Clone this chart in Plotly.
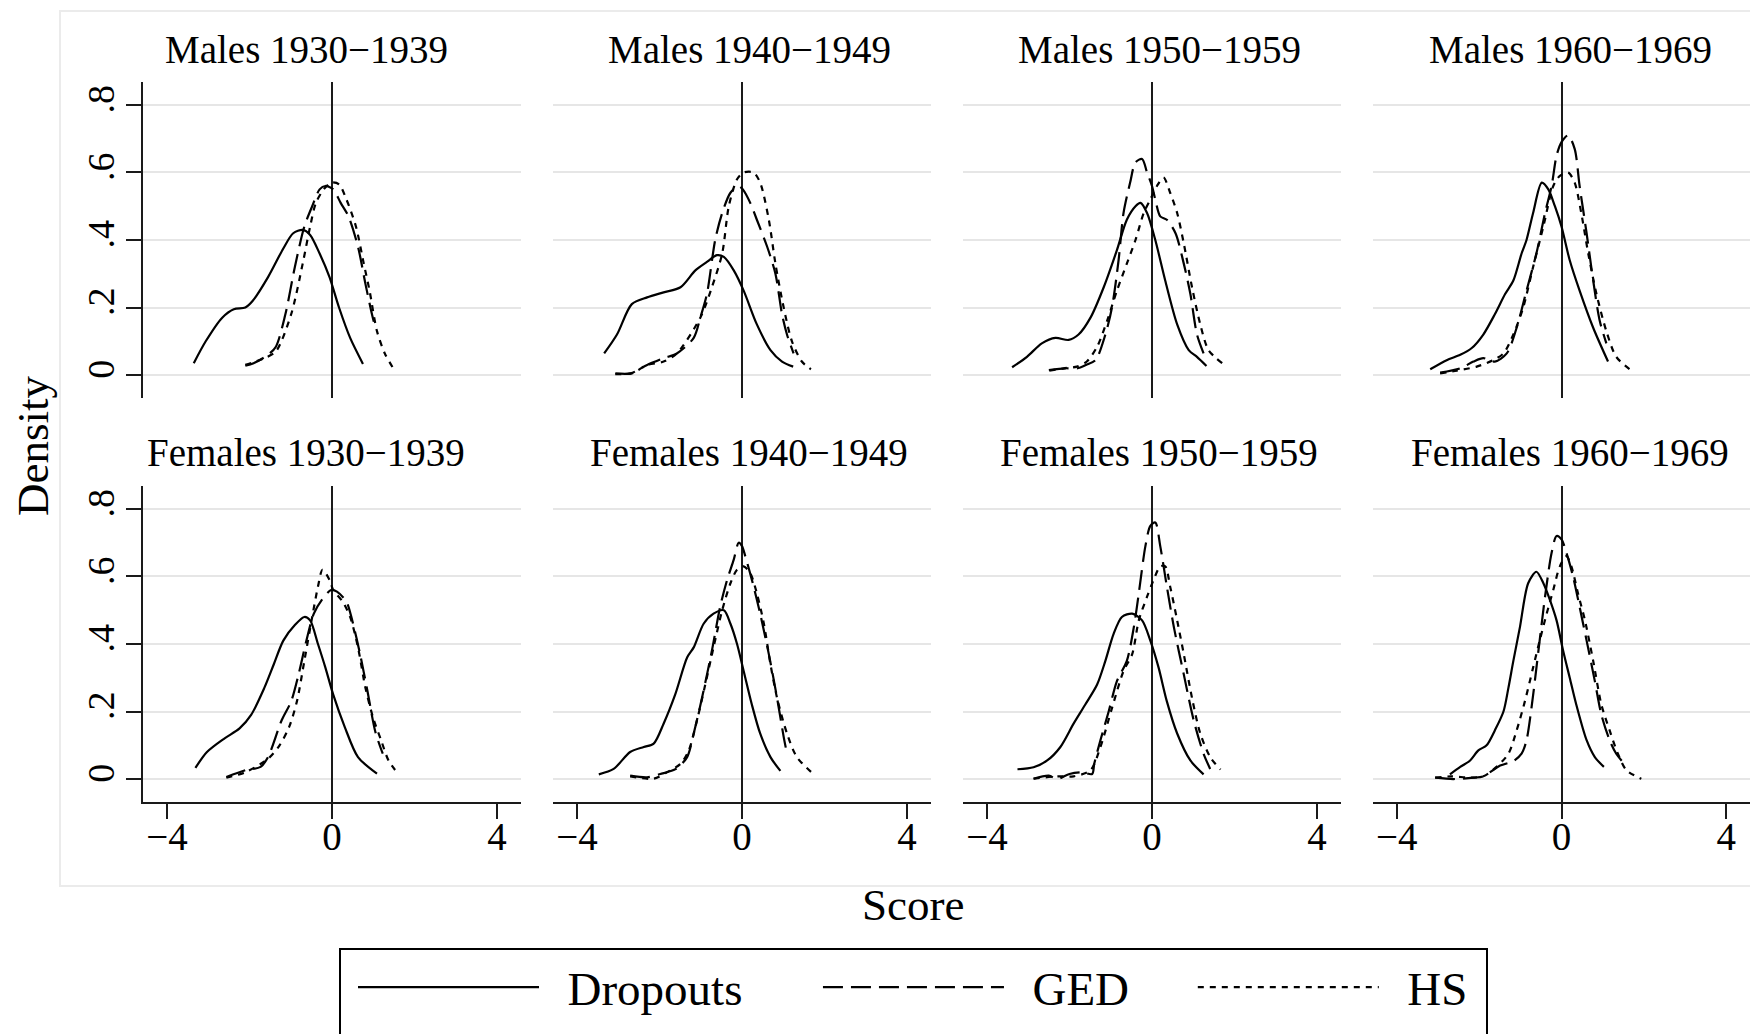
import plotly.graph_objects as go

# ---------------- data (score, density) ----------------
# Males 1930-1939
m1930_drop_x = [-3.35,-3.06,-2.66,-2.38,-2.10,-1.92,-1.55,-1.18,-0.94,-0.71,-0.53,-0.30,-0.06,0.17,0.44,0.75]
m1930_drop_y = [0.035,0.10,0.17,0.195,0.20,0.22,0.29,0.375,0.42,0.43,0.415,0.36,0.29,0.20,0.11,0.033]
m1930_ged_x = [-2.10,-1.90,-1.55,-1.36,-1.13,-0.90,-0.67,-0.48,-0.30,-0.16,0.03,0.21,0.40,0.63,0.81,0.95,1.05]
m1930_ged_y = [0.028,0.035,0.06,0.084,0.18,0.32,0.44,0.50,0.55,0.56,0.55,0.51,0.47,0.38,0.27,0.19,0.14]
m1930_hs_x = [-2.10,-1.64,-1.36,-0.99,-0.71,-0.53,-0.39,-0.20,-0.02,0.17,0.35,0.58,0.77,0.91,1.09,1.28,1.51]
m1930_hs_y = [0.03,0.05,0.07,0.18,0.33,0.44,0.51,0.55,0.57,0.565,0.52,0.44,0.33,0.25,0.13,0.064,0.015]

# Males 1940-1949
m1940_drop_x = [-3.34,-3.03,-2.67,-2.30,-1.90,-1.49,-1.13,-0.85,-0.61,-0.44,-0.20,0.04,0.36,0.69,0.97,1.24]
m1940_drop_y = [0.064,0.12,0.21,0.23,0.245,0.26,0.31,0.335,0.355,0.35,0.31,0.25,0.15,0.074,0.04,0.025]
m1940_ged_x = [-3.07,-2.70,-2.30,-1.90,-1.58,-1.17,-1.01,-0.85,-0.65,-0.48,-0.28,-0.08,0.02,0.20,0.36,0.61,0.81,0.97,1.09,1.25]
m1940_ged_y = [0.005,0.005,0.03,0.05,0.064,0.11,0.17,0.24,0.40,0.48,0.54,0.56,0.55,0.51,0.46,0.38,0.30,0.18,0.12,0.064]
m1940_hs_x = [-3.07,-2.67,-2.30,-1.90,-1.58,-1.01,-0.73,-0.48,-0.32,-0.12,0.04,0.28,0.44,0.65,0.81,1.01,1.21,1.45,1.67]
m1940_hs_y = [0.003,0.005,0.03,0.04,0.064,0.17,0.26,0.36,0.50,0.58,0.60,0.60,0.57,0.46,0.33,0.20,0.10,0.04,0.017]

# Males 1950-1959
m1950_drop_x = [-3.39,-3.03,-2.67,-2.34,-2.02,-1.78,-1.49,-1.17,-0.85,-0.61,-0.40,-0.28,-0.12,0.08,0.32,0.61,0.89,1.09,1.32]
m1950_drop_y = [0.023,0.054,0.094,0.11,0.104,0.12,0.17,0.26,0.37,0.46,0.50,0.51,0.48,0.40,0.28,0.15,0.074,0.054,0.027]
m1950_ged_x = [-2.50,-2.10,-1.80,-1.60,-1.37,-1.13,-0.97,-0.81,-0.69,-0.53,-0.40,-0.24,-0.12,0.0,0.08,0.20,0.36,0.57,0.77,0.93,1.09,1.25]
m1950_ged_y = [0.015,0.02,0.02,0.03,0.044,0.12,0.20,0.34,0.48,0.57,0.63,0.64,0.60,0.56,0.52,0.47,0.46,0.42,0.33,0.24,0.12,0.064]
m1950_hs_x = [-2.49,-2.14,-1.82,-1.58,-1.33,-1.09,-0.85,-0.61,-0.40,-0.20,-0.04,0.12,0.28,0.44,0.61,0.77,0.97,1.17,1.37,1.70]
m1950_hs_y = [0.013,0.02,0.025,0.04,0.084,0.16,0.25,0.33,0.40,0.48,0.52,0.56,0.585,0.54,0.48,0.39,0.26,0.15,0.074,0.035]

# Males 1960-1969
m1960_drop_x = [-3.19,-2.79,-2.46,-2.18,-1.90,-1.62,-1.37,-1.17,-0.97,-0.85,-0.69,-0.48,-0.32,-0.16,0.0,0.20,0.44,0.77,1.13]
m1960_drop_y = [0.017,0.044,0.06,0.08,0.12,0.18,0.24,0.28,0.36,0.40,0.48,0.57,0.55,0.50,0.44,0.34,0.25,0.14,0.04]
m1960_ged_x = [-2.95,-2.46,-2.14,-1.90,-1.62,-1.33,-1.09,-0.85,-0.61,-0.40,-0.24,-0.12,0.0,0.16,0.32,0.44,0.61,0.77,0.93,1.09]
m1960_ged_y = [0.007,0.02,0.04,0.05,0.04,0.064,0.14,0.25,0.36,0.48,0.56,0.65,0.69,0.71,0.67,0.56,0.42,0.28,0.16,0.094]
m1960_hs_x = [-2.95,-2.54,-2.06,-1.66,-1.41,-1.17,-0.93,-0.69,-0.44,-0.20,-0.04,0.16,0.32,0.48,0.65,0.85,1.09,1.33,1.70]
m1960_hs_y = [0.005,0.013,0.025,0.044,0.064,0.12,0.20,0.32,0.44,0.56,0.59,0.60,0.57,0.48,0.36,0.24,0.13,0.054,0.013]

# Females 1930-1939
f1930_drop_x = [-3.31,-3.03,-2.61,-2.24,-1.96,-1.64,-1.41,-1.18,-0.90,-0.67,-0.53,-0.34,-0.16,0.03,0.31,0.63,1.09]
f1930_drop_y = [0.033,0.08,0.12,0.15,0.19,0.27,0.34,0.41,0.456,0.48,0.47,0.40,0.33,0.25,0.154,0.065,0.016]
f1930_ged_x = [-2.56,-2.10,-1.73,-1.55,-1.22,-0.99,-0.81,-0.62,-0.44,-0.25,-0.02,0.12,0.35,0.49,0.68,0.86,1.05,1.23]
f1930_ged_y = [0.006,0.026,0.036,0.065,0.174,0.23,0.31,0.41,0.49,0.53,0.56,0.555,0.525,0.47,0.37,0.26,0.14,0.075]
f1930_hs_x = [-2.56,-2.10,-1.55,-1.27,-1.04,-0.85,-0.67,-0.48,-0.34,-0.23,-0.06,0.03,0.26,0.44,0.63,0.81,1.0,1.19,1.37,1.60]
f1930_hs_y = [0.004,0.02,0.06,0.10,0.154,0.23,0.35,0.48,0.57,0.62,0.59,0.56,0.525,0.48,0.39,0.27,0.18,0.115,0.055,0.016]

# Females 1940-1949
f1940_drop_x = [-3.47,-3.11,-2.71,-2.38,-2.14,-1.90,-1.62,-1.33,-1.17,-0.93,-0.69,-0.44,-0.28,-0.12,0.04,0.24,0.44,0.69,0.93]
f1940_drop_y = [0.014,0.03,0.08,0.095,0.105,0.164,0.25,0.36,0.39,0.46,0.49,0.50,0.46,0.40,0.32,0.22,0.135,0.065,0.024]
f1940_ged_x = [-2.71,-2.30,-1.98,-1.60,-1.33,-1.17,-0.97,-0.73,-0.53,-0.36,-0.20,-0.08,0.0,0.08,0.24,0.44,0.65,0.85,1.01,1.09]
f1940_ged_y = [0.01,0.005,0.015,0.03,0.065,0.135,0.24,0.38,0.51,0.59,0.65,0.70,0.69,0.66,0.59,0.49,0.37,0.24,0.125,0.075]
f1940_hs_x = [-2.71,-2.14,-1.82,-1.49,-1.29,-1.09,-0.89,-0.69,-0.48,-0.28,-0.12,0.04,0.20,0.36,0.53,0.69,0.85,1.09,1.33,1.74]
f1940_hs_y = [0.008,0.001,0.02,0.045,0.085,0.174,0.28,0.39,0.50,0.58,0.62,0.63,0.61,0.55,0.46,0.34,0.24,0.135,0.065,0.014]

# Females 1950-1959
f1950_drop_x = [-3.26,-2.87,-2.54,-2.22,-1.90,-1.62,-1.33,-1.13,-0.93,-0.73,-0.48,-0.24,-0.04,0.16,0.36,0.61,0.93,1.25]
f1950_drop_y = [0.029,0.035,0.055,0.095,0.164,0.22,0.28,0.35,0.43,0.48,0.49,0.47,0.41,0.33,0.23,0.135,0.055,0.014]
f1950_ged_x = [-2.87,-2.50,-2.30,-2.00,-1.70,-1.45,-1.40,-1.25,-1.05,-0.85,-0.61,-0.44,-0.32,-0.16,-0.04,0.08,0.20,0.36,0.53,0.77,1.01,1.25,1.41]
f1950_ged_y = [0.001,0.01,0.0,0.015,0.02,0.015,0.045,0.115,0.20,0.29,0.35,0.45,0.55,0.69,0.75,0.76,0.69,0.57,0.45,0.31,0.174,0.075,0.03]
f1950_hs_x = [-2.87,-2.30,-1.90,-1.49,-1.25,-0.97,-0.69,-0.48,-0.32,-0.12,0.04,0.20,0.32,0.44,0.61,0.77,0.97,1.17,1.41,1.66]
f1950_hs_y = [0.001,0.008,0.008,0.026,0.095,0.21,0.32,0.37,0.47,0.54,0.59,0.63,0.63,0.57,0.47,0.37,0.24,0.135,0.065,0.028]

# Females 1960-1969
f1960_drop_x = [-2.71,-2.46,-2.22,-2.02,-1.82,-1.62,-1.41,-1.29,-1.17,-1.01,-0.81,-0.61,-0.44,-0.28,-0.12,0.04,0.20,0.36,0.61,0.81,1.03]
f1960_drop_y = [0.014,0.036,0.055,0.085,0.10,0.144,0.20,0.27,0.35,0.45,0.58,0.614,0.58,0.53,0.47,0.38,0.30,0.22,0.115,0.065,0.036]
f1960_ged_x = [-3.07,-2.63,-2.14,-1.90,-1.49,-1.17,-0.97,-0.85,-0.73,-0.57,-0.40,-0.24,-0.12,0.0,0.12,0.28,0.44,0.61,0.81,0.97,1.17,1.33,1.53]
f1960_ged_y = [0.004,0.0,0.004,0.008,0.04,0.053,0.075,0.115,0.21,0.37,0.54,0.67,0.72,0.71,0.67,0.60,0.51,0.41,0.29,0.19,0.115,0.075,0.045]
f1960_hs_x = [-3.07,-2.67,-2.22,-1.90,-1.58,-1.29,-1.09,-0.89,-0.69,-0.53,-0.36,-0.20,-0.04,0.12,0.24,0.40,0.57,0.77,0.97,1.17,1.37,1.58,1.94]
f1960_hs_y = [0.004,0.008,0.004,0.008,0.036,0.075,0.144,0.23,0.33,0.41,0.49,0.56,0.63,0.66,0.63,0.55,0.47,0.35,0.22,0.144,0.075,0.026,0.001]

panel_titles = ["Males 1930\u22121939", "Males 1940\u22121949", "Males 1950\u22121959", "Males 1960\u22121969",
                "Females 1930\u22121939", "Females 1940\u22121949", "Females 1950\u22121959", "Females 1960\u22121969"]
series_names = ["Dropouts", "GED", "HS"]
y_tick_vals = [0, 0.2, 0.4, 0.6, 0.8]
y_tick_text = ["0", ".2", ".4", ".6", ".8"]
x_tick_vals = [-4, 0, 4]
x_tick_text = ["\u22124", "0", "4"]

panel_data = [
    [(m1930_drop_x, m1930_drop_y), (m1930_ged_x, m1930_ged_y), (m1930_hs_x, m1930_hs_y)],
    [(m1940_drop_x, m1940_drop_y), (m1940_ged_x, m1940_ged_y), (m1940_hs_x, m1940_hs_y)],
    [(m1950_drop_x, m1950_drop_y), (m1950_ged_x, m1950_ged_y), (m1950_hs_x, m1950_hs_y)],
    [(m1960_drop_x, m1960_drop_y), (m1960_ged_x, m1960_ged_y), (m1960_hs_x, m1960_hs_y)],
    [(f1930_drop_x, f1930_drop_y), (f1930_ged_x, f1930_ged_y), (f1930_hs_x, f1930_hs_y)],
    [(f1940_drop_x, f1940_drop_y), (f1940_ged_x, f1940_ged_y), (f1940_hs_x, f1940_hs_y)],
    [(f1950_drop_x, f1950_drop_y), (f1950_ged_x, f1950_ged_y), (f1950_hs_x, f1950_hs_y)],
    [(f1960_drop_x, f1960_drop_y), (f1960_ged_x, f1960_ged_y), (f1960_hs_x, f1960_hs_y)],
]

# ---------------- layout geometry ----------------
W, H = 1750, 1034
FONT = "Liberation Serif"
INK = "#1a1a1a"
GRID = "#e6e6e6"
dashes = ["solid", "20px,8px", "6px,6px"]
NB = "\u00a0"
# legend labels with spacing (Stata-like wide legend keys)
legend_labels = [NB * 2 + "Dropouts" + NB * 6, NB * 2 + "GED" + NB * 5, NB * 2 + "HS"]

col_px = [(143, 521), (553, 931), (963, 1341), (1373, 1751)]
row_px = [(82, 398), (486, 802)]
title_cx = [306, 749, 1159, 1570]
title_cy = [50, 453]

fig = go.Figure()
layout = dict(
    width=W, height=H,
    margin=dict(l=0, r=0, t=0, b=0, autoexpand=False),
    paper_bgcolor="white", plot_bgcolor="white",
    font=dict(family=FONT, color="black"),
    showlegend=True,
)
annotations = []
for i in range(8):
    r, c = divmod(i, 4)
    ax_n = "" if i == 0 else str(i + 1)
    x0, x1 = col_px[c]
    y0, y1 = row_px[r]
    xd = [x0 / W, min(x1 / W, 1.0)]
    yd = [1 - y1 / H, 1 - y0 / H]
    bottom = (r == 1)
    left = (c == 0)
    layout["xaxis" + ax_n] = dict(
        domain=xd, anchor="y" + ax_n, range=[-4.58, 4.58],
        showgrid=False, zeroline=True, zerolinecolor=INK, zerolinewidth=2,
        showline=bottom, linecolor=INK, linewidth=2,
        ticks="outside" if bottom else "", ticklen=15, tickwidth=2, tickcolor=INK,
        tickvals=x_tick_vals, ticktext=x_tick_text, showticklabels=bottom,
        tickfont=dict(family=FONT, size=39, color="black"),
        ticklabelstandoff=-16,
        fixedrange=True,
    )
    layout["yaxis" + ax_n] = dict(
        domain=yd, anchor="x" + ax_n, range=[-0.068, 0.868],
        showgrid=True, gridcolor=GRID, gridwidth=2, zeroline=False,
        showline=left, linecolor=INK, linewidth=2,
        ticks="outside" if left else "", ticklen=15, tickwidth=2, tickcolor=INK,
        tickvals=y_tick_vals, ticktext=y_tick_text, showticklabels=left,
        tickangle=-90, tickfont=dict(family=FONT, size=38, color="black"),
        ticklabelstandoff=-3,
        fixedrange=True,
    )
    for k, (xs, ys) in enumerate(panel_data[i]):
        fig.add_trace(go.Scatter(
            x=xs, y=ys, mode="lines", name=legend_labels[k],
            line=dict(color="black", width=2.2, dash=dashes[k], shape="spline", smoothing=0.8),
            xaxis="x" + ax_n, yaxis="y" + ax_n,
            showlegend=(i == 0), legendgroup=series_names[k],
            hovertemplate=series_names[k] + ": %{x}, %{y}<extra></extra>",
        ))
    annotations.append(dict(
        text=panel_titles[i], x=title_cx[c] / W, y=1 - title_cy[r] / H,
        xref="paper", yref="paper", xanchor="center", yanchor="middle",
        showarrow=False, font=dict(family=FONT, size=39, color="black"),
    ))

annotations.append(dict(text="Score", x=913 / W, y=1 - 905 / H, xref="paper", yref="paper",
                        xanchor="center", yanchor="middle", showarrow=False,
                        font=dict(family=FONT, size=45, color="black")))
annotations.append(dict(text="Density", x=33 / W, y=1 - 446 / H, xref="paper", yref="paper",
                        xanchor="center", yanchor="middle", showarrow=False, textangle=-90,
                        font=dict(family=FONT, size=45, color="black")))
layout["annotations"] = annotations

layout["shapes"] = [
    dict(type="rect", xref="paper", yref="paper",
         x0=60 / W, x1=1.02, y0=1 - 886 / H, y1=1 - 11 / H,
         line=dict(color="#ebebeb", width=2), fillcolor="rgba(0,0,0,0)", layer="below"),
    dict(type="rect", xref="paper", yref="paper",
         x0=340 / W, x1=1487 / W, y0=-0.05, y1=1 - 949 / H,
         line=dict(color="black", width=2), fillcolor="rgba(0,0,0,0)", layer="above"),
]

layout["legend"] = dict(
    orientation="h", x=353 / W, xanchor="left", y=1 - 950 / H, yanchor="top",
    borderwidth=0, bgcolor="rgba(0,0,0,0)",
    font=dict(family=FONT, size=47, color="black"),
    itemwidth=181, itemclick=False, itemdoubleclick=False,
)

fig.update_layout(**layout)
fig.write_html("out.html", config={"displayModeBar": False},
               post_script="document.body.style.margin='0';document.body.style.overflow='hidden';")
